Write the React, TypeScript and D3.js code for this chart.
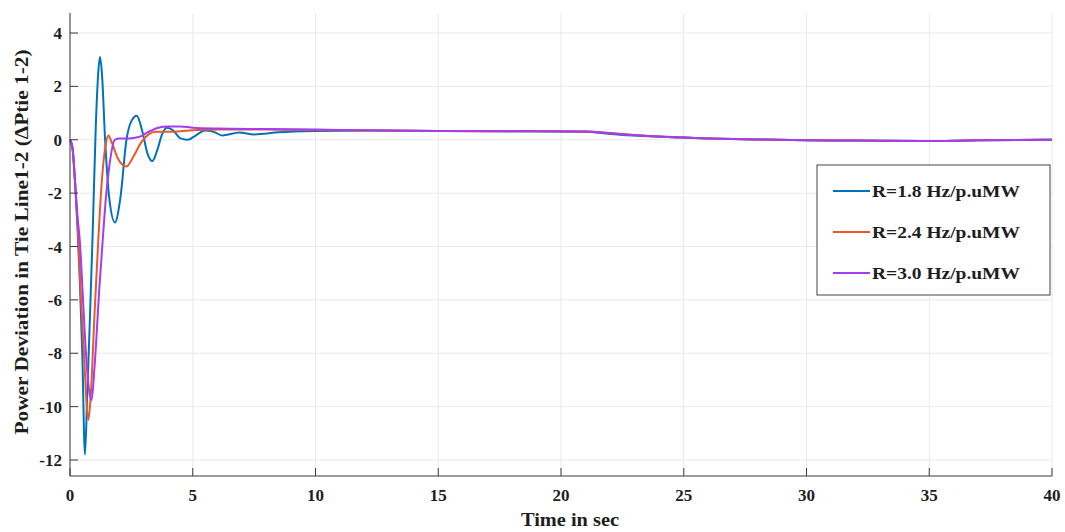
import React from "react";
import * as d3 from "d3";

const seriesNames = ["R=1.8 Hz/p.uMW", "R=2.4 Hz/p.uMW", "R=3.0 Hz/p.uMW"];
const seriesColors = ["#0072BD", "#E8592A", "#A43CF2"];

const tBlue = [0, 0.1, 0.2, 0.3, 0.4, 0.5, 0.61, 0.7, 0.8, 0.92, 1.05, 1.15, 1.22, 1.3, 1.43, 1.6, 1.83, 2.05, 2.3, 2.5, 2.72, 2.95, 3.15, 3.35, 3.55, 3.75, 3.95, 4.2, 4.5, 4.8, 5.1, 5.5, 5.85, 6.2, 6.9, 7.5, 8.5, 10, 12, 15, 18, 21, 22, 23, 24, 25, 26, 27, 28, 30, 32, 34.7, 37, 40];
const vBlue = [0, -0.3, -1.5, -3.2, -5.3, -8.0, -11.8, -9.6, -7.0, -3.6, 0.5, 2.5, 3.1, 2.5, 0, -2.2, -3.1, -2.2, 0, 0.7, 0.9, 0.3, -0.5, -0.8, -0.4, 0.2, 0.45, 0.35, 0.05, 0.0, 0.15, 0.35, 0.3, 0.16, 0.27, 0.2, 0.28, 0.33, 0.35, 0.33, 0.32, 0.3, 0.22, 0.16, 0.11, 0.08, 0.05, 0.03, 0.01, -0.02, -0.03, -0.05, -0.02, 0];

const tOrange = [0, 0.1, 0.2, 0.3, 0.45, 0.57, 0.67, 0.75, 0.85, 1.0, 1.15, 1.3, 1.45, 1.56, 1.7, 1.95, 2.3, 2.6, 2.9, 3.2, 3.5, 4.0, 4.5, 5, 6, 8, 10, 12, 15, 18, 21, 22, 23, 24, 25, 26, 27, 28, 30, 32, 34.7, 37, 40];
const vOrange = [0, -0.3, -1.5, -3.0, -6.0, -8.0, -9.8, -10.5, -9.5, -6.5, -3.8, -1.5, -0.2, 0.16, -0.1, -0.7, -1.0, -0.6, -0.1, 0.2, 0.3, 0.3, 0.32, 0.36, 0.38, 0.38, 0.37, 0.35, 0.33, 0.32, 0.31, 0.25, 0.18, 0.12, 0.08, 0.05, 0.03, 0.01, -0.02, -0.03, -0.05, -0.02, 0];

const tPurple = [0, 0.1, 0.2, 0.3, 0.4, 0.52, 0.65, 0.78, 0.88, 1.0, 1.2, 1.36, 1.45, 1.6, 1.83, 2.0, 2.4, 2.8, 3.2, 3.6, 4.0, 4.5, 5, 6, 8, 10, 12, 15, 18, 21, 22, 23, 24, 25, 26, 27, 28, 30, 32, 34.7, 37, 40];
const vPurple = [0, -0.3, -1.5, -2.8, -3.8, -5.8, -8.0, -9.4, -9.76, -8.5, -5.5, -3.4, -2.3, -1.0, 0, 0.05, 0.05, 0.1, 0.3, 0.45, 0.5, 0.5, 0.45, 0.42, 0.4, 0.38, 0.36, 0.33, 0.32, 0.31, 0.24, 0.17, 0.12, 0.08, 0.05, 0.03, 0.01, -0.02, -0.03, -0.05, -0.02, 0];

const xTicks = [0, 5, 10, 15, 20, 25, 30, 35, 40];
const yTicks = [-12, -10, -8, -6, -4, -2, 0, 2, 4];

const W = 1065;
const H = 532;
const left = 70;
const right = 1052;
const top = 13;
const bottom = 476;

export default function App() {
  const x = d3.scaleLinear().domain([0, 40]).range([left, right]);
  const y = d3.scaleLinear().domain([-12.6, 4.75]).range([bottom, top]);
  const line = d3
    .line<[number, number]>()
    .x((d) => x(d[0]))
    .y((d) => y(d[1]))
    .curve(d3.curveMonotoneX);

  const series = [
    tBlue.map((t, i) => [t, vBlue[i]] as [number, number]),
    tOrange.map((t, i) => [t, vOrange[i]] as [number, number]),
    tPurple.map((t, i) => [t, vPurple[i]] as [number, number]),
  ];

  const font = "'Liberation Serif', 'Times New Roman', serif";
  const axisColor = "#3a3a3a";
  const textColor = "#1e1e1e";

  return (
    <svg width={W} height={H} style={{ position: "absolute", left: 0, top: 0, background: "#fff" }}>
      <rect x={0} y={0} width={W} height={H} fill="#fff" />
      {xTicks.map((t) => (
        <line key={"gx" + t} x1={x(t)} x2={x(t)} y1={top} y2={bottom} stroke="#e9e9e9" strokeWidth={1} />
      ))}
      {yTicks.map((t) => (
        <line key={"gy" + t} x1={left} x2={right} y1={y(t)} y2={y(t)} stroke="#e9e9e9" strokeWidth={1} />
      ))}
      {series.map((s, i) => (
        <path key={"s" + i} d={line(s) || ""} fill="none" stroke={seriesColors[i]} strokeWidth={2} strokeLinejoin="round" />
      ))}
      <line x1={left} x2={left} y1={top} y2={bottom} stroke={axisColor} strokeWidth={1} />
      <line x1={left} x2={right} y1={bottom} y2={bottom} stroke={axisColor} strokeWidth={1.2} />
      {xTicks.map((t) => (
        <g key={"xt" + t}>
          <line x1={x(t)} x2={x(t)} y1={bottom} y2={bottom - 8} stroke={axisColor} strokeWidth={1} />
          <text x={x(t)} y={501} textAnchor="middle" fontFamily={font} fontWeight="bold" fontSize={17} fill={textColor}>
            {t}
          </text>
        </g>
      ))}
      {yTicks.map((t) => (
        <g key={"yt" + t}>
          <line x1={left} x2={left + 8} y1={y(t)} y2={y(t)} stroke={axisColor} strokeWidth={1} />
          <text x={62} y={y(t) + 6} textAnchor="end" fontFamily={font} fontWeight="bold" fontSize={17} fill={textColor}>
            {t}
          </text>
        </g>
      ))}
      <text
        x={570}
        y={526}
        textAnchor="middle"
        fontFamily={font}
        fontWeight="bold"
        fontSize={18}
        fill={textColor}
        textLength={98}
        lengthAdjust="spacingAndGlyphs"
      >
        Time in sec
      </text>
      <text
        transform={`translate(28, 242) rotate(-90)`}
        textAnchor="middle"
        fontFamily={font}
        fontWeight="bold"
        fontSize={18}
        fill={textColor}
        textLength={385}
        lengthAdjust="spacingAndGlyphs"
      >
        Power Deviation in Tie Line1-2 (ΔPtie 1-2)
      </text>
      <rect x={817} y={165} width={233} height={130} fill="#fff" stroke="#444" strokeWidth={1} />
      {seriesNames.map((n, i) => {
        const ly = 191 + i * 41;
        return (
          <g key={"lg" + i}>
            <line x1={833} x2={870} y1={ly} y2={ly} stroke={seriesColors[i]} strokeWidth={2} />
            <text
              x={872}
              y={ly + 6}
              fontFamily={font}
              fontWeight="bold"
              fontSize={17}
              fill={textColor}
              textLength={148}
              lengthAdjust="spacingAndGlyphs"
            >
              {n}
            </text>
          </g>
        );
      })}
    </svg>
  );
}
